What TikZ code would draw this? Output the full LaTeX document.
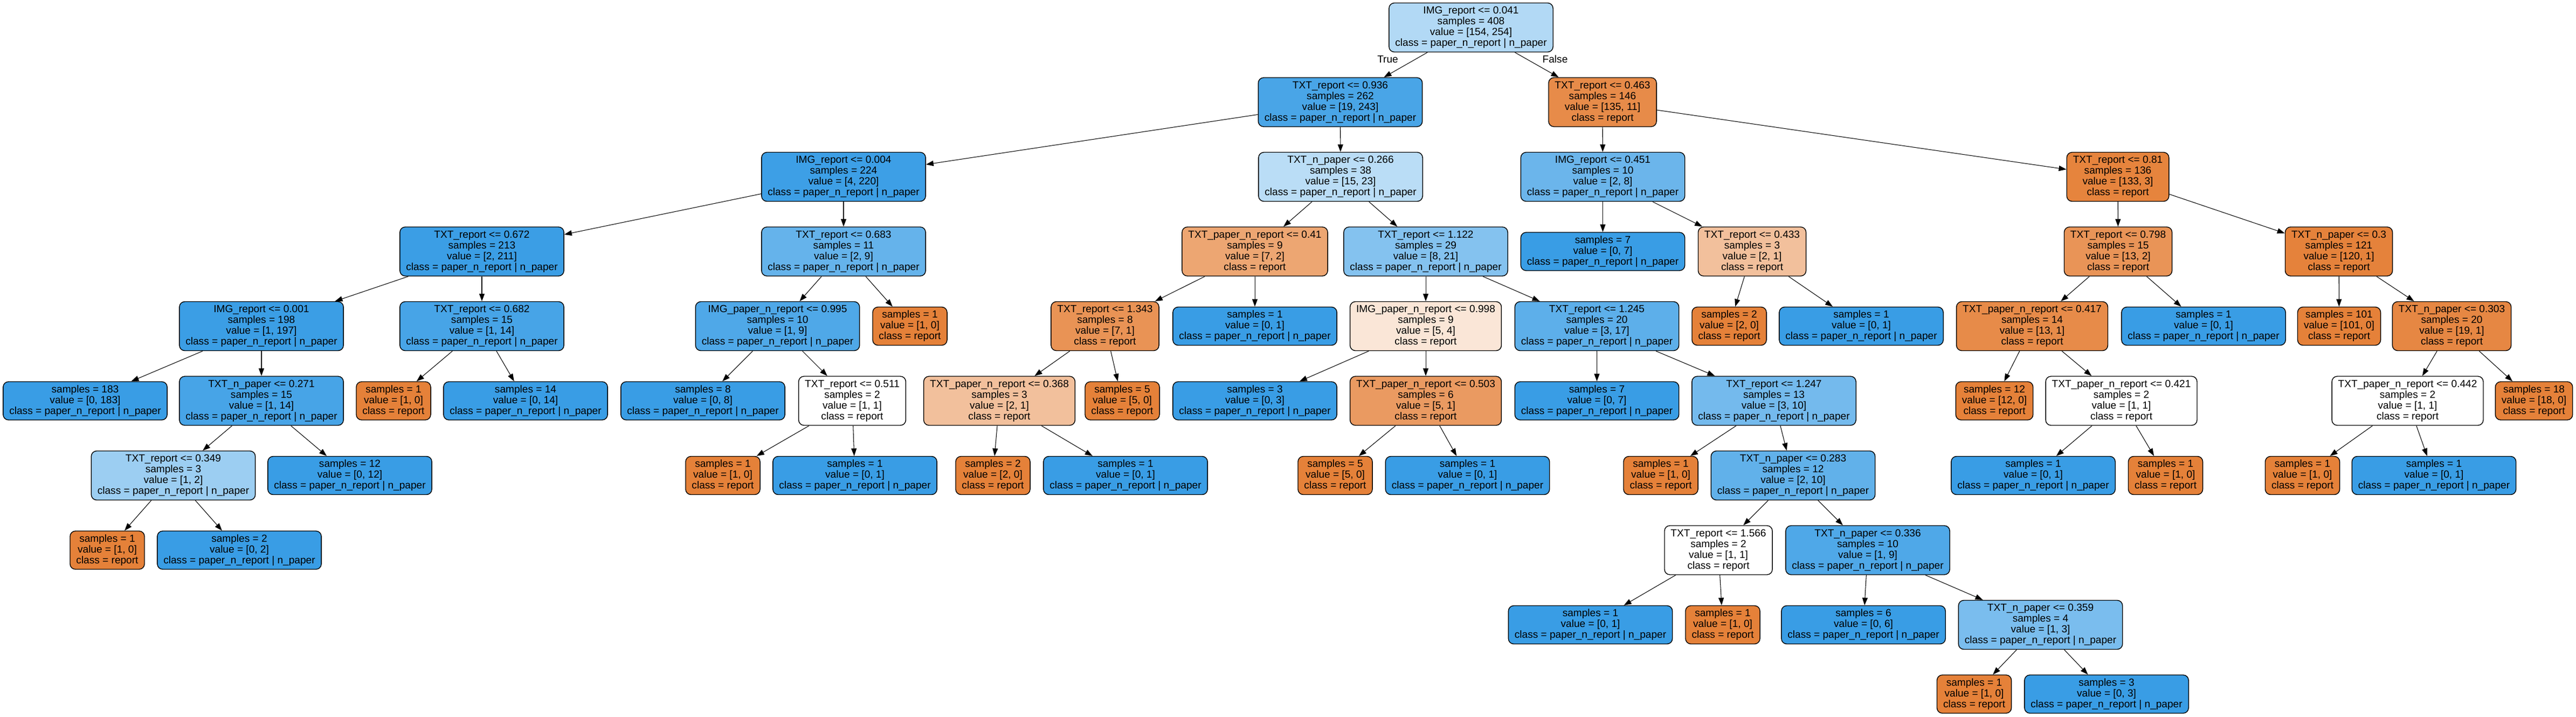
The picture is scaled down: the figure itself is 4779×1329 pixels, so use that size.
\documentclass[tikz,border=0pt]{standalone}
\usepackage{fontspec}
\setmainfont{Liberation Sans}
\usetikzlibrary{arrows.meta}
\definecolor{rep}{RGB}{229,129,57}
\definecolor{pnr}{RGB}{57,157,229}
\newcommand{\clsP}{class = paper\_n\_report | n\_paper}
\newcommand{\clsR}{class = report}
\tikzset{
    split/.style = {
        draw,
        shape=rectangle,
        rounded corners=1mm,
        align=center,
        minimum height=9.1mm,
        inner xsep=1.15mm,
        inner ysep=0pt,
        line width=0.4pt
    },
    leaf/.style = {
        split,
        minimum height=7.1mm
    },
    lbl/.style = {
        shape=rectangle,
        inner sep=0pt
    },
    >={Triangle[length=1.4mm,width=1mm]},
}

\begin{document}
\begin{tikzpicture}[x=0.1mm, y=-0.1mm, line width=0.3pt,
    font=\fontsize{5.43pt}{5.69pt}\selectfont]
    \useasboundingbox (0,0) rectangle (4779,1329);
    \fill[white] (0,0) rectangle (4779,1329);

    % level 0 and 1
    \node[split, fill=pnr!39!white] (root) at (2729,51) {IMG\_report <= 0.041\\samples = 408\\value = [154, 254]\\\clsP};
    \node[split, fill=pnr!92!white] (t936) at (2486.5,189.5) {TXT\_report <= 0.936\\samples = 262\\value = [19, 243]\\\clsP};
    \node[split, fill=rep!92!white] (t463) at (2973,189.5) {TXT\_report <= 0.463\\samples = 146\\value = [135, 11]\\\clsR};
    \node[lbl] (lblT) at (2574.5,110) {True};
    \node[lbl] (lblF) at (2885,110) {False};

    % level 2
    \node[split, fill=pnr!98!white] (i004) at (1565,328) {IMG\_report <= 0.004\\samples = 224\\value = [4, 220]\\\clsP};
    \node[split, fill=pnr!35!white] (n266) at (2487,328) {TXT\_n\_paper <= 0.266\\samples = 38\\value = [15, 23]\\\clsP};
    \node[split, fill=pnr!75!white] (i451) at (2973.5,328) {IMG\_report <= 0.451\\samples = 10\\value = [2, 8]\\\clsP};
    \node[split, fill=rep!98!white] (t810) at (3929,328) {TXT\_report <= 0.81\\samples = 136\\value = [133, 3]\\\clsR};

    % level 3
    \node[split, fill=pnr!99!white] (t672) at (894,466.5) {TXT\_report <= 0.672\\samples = 213\\value = [2, 211]\\\clsP};
    \node[split, fill=pnr!78!white] (t683) at (1565,466.5) {TXT\_report <= 0.683\\samples = 11\\value = [2, 9]\\\clsP};
    \node[split, fill=rep!71!white] (p410) at (2328,466.5) {TXT\_paper\_n\_report <= 0.41\\samples = 9\\value = [7, 2]\\\clsR};
    \node[split, fill=pnr!62!white] (t1122) at (2645,466.5) {TXT\_report <= 1.122\\samples = 29\\value = [8, 21]\\\clsP};
    \node[leaf, fill=pnr] (lf7a) at (2973.5,466.5) {samples = 7\\value = [0, 7]\\\clsP};
    \node[split, fill=rep!50!white] (t433) at (3250.5,466.5) {TXT\_report <= 0.433\\samples = 3\\value = [2, 1]\\\clsR};
    \node[split, fill=rep!85!white] (t798) at (3929.5,466.5) {TXT\_report <= 0.798\\samples = 15\\value = [13, 2]\\\clsR};
    \node[split, fill=rep!99!white] (n300) at (4339,466.5) {TXT\_n\_paper <= 0.3\\samples = 121\\value = [120, 1]\\\clsR};

    % level 4
    \node[split, fill=pnr!99!white] (i001) at (485,605) {IMG\_report <= 0.001\\samples = 198\\value = [1, 197]\\\clsP};
    \node[split, fill=pnr!93!white] (t682) at (894,605) {TXT\_report <= 0.682\\samples = 15\\value = [1, 14]\\\clsP};
    \node[split, fill=pnr!89!white] (ip995) at (1442.5,605) {IMG\_paper\_n\_report <= 0.995\\samples = 10\\value = [1, 9]\\\clsP};
    \node[leaf, fill=rep] (lf1a) at (1688,605) {samples = 1\\value = [1, 0]\\\clsR};
    \node[split, fill=rep!86!white] (t1343) at (2050,605) {TXT\_report <= 1.343\\samples = 8\\value = [7, 1]\\\clsR};
    \node[leaf, fill=pnr] (lf1b) at (2328,605) {samples = 1\\value = [0, 1]\\\clsP};
    \node[split, fill=rep!20!white] (ip998) at (2645,605) {IMG\_paper\_n\_report <= 0.998\\samples = 9\\value = [5, 4]\\\clsR};
    \node[split, fill=pnr!82!white] (t1245) at (2962.5,605) {TXT\_report <= 1.245\\samples = 20\\value = [3, 17]\\\clsP};
    \node[leaf, fill=rep] (lf2a) at (3208,605) {samples = 2\\value = [2, 0]\\\clsR};
    \node[leaf, fill=pnr] (lf1c) at (3453,605) {samples = 1\\value = [0, 1]\\\clsP};
    \node[split, fill=rep!92!white] (p417) at (3770,605) {TXT\_paper\_n\_report <= 0.417\\samples = 14\\value = [13, 1]\\\clsR};
    \node[leaf, fill=pnr] (lf1d) at (4088,605) {samples = 1\\value = [0, 1]\\\clsP};
    \node[leaf, fill=rep] (lf101) at (4339.5,605) {samples = 101\\value = [101, 0]\\\clsR};
    \node[split, fill=rep!95!white] (n303) at (4548.5,605) {TXT\_n\_paper <= 0.303\\samples = 20\\value = [19, 1]\\\clsR};

    % level 5
    \node[leaf, fill=pnr] (lf183) at (158,743.5) {samples = 183\\value = [0, 183]\\\clsP};
    \node[split, fill=pnr!93!white] (n271) at (485,743.5) {TXT\_n\_paper <= 0.271\\samples = 15\\value = [1, 14]\\\clsP};
    \node[leaf, fill=rep] (lf1e) at (730,743.5) {samples = 1\\value = [1, 0]\\\clsR};
    \node[leaf, fill=pnr] (lf14) at (975,743.5) {samples = 14\\value = [0, 14]\\\clsP};
    \node[leaf, fill=pnr] (lf8) at (1304,743.5) {samples = 8\\value = [0, 8]\\\clsP};
    \node[split, fill=white] (t511) at (1581,743.5) {TXT\_report <= 0.511\\samples = 2\\value = [1, 1]\\\clsR};
    \node[split, fill=rep!50!white] (p368) at (1854,743.5) {TXT\_paper\_n\_report <= 0.368\\samples = 3\\value = [2, 1]\\\clsR};
    \node[leaf, fill=rep] (lf5a) at (2082,743.5) {samples = 5\\value = [5, 0]\\\clsR};
    \node[leaf, fill=pnr] (lf3a) at (2328,743.5) {samples = 3\\value = [0, 3]\\\clsP};
    \node[split, fill=rep!80!white] (p503) at (2645,743.5) {TXT\_paper\_n\_report <= 0.503\\samples = 6\\value = [5, 1]\\\clsR};
    \node[leaf, fill=pnr] (lf7b) at (2962.5,743.5) {samples = 7\\value = [0, 7]\\\clsP};
    \node[split, fill=pnr!70!white] (t1247) at (3291,743.5) {TXT\_report <= 1.247\\samples = 13\\value = [3, 10]\\\clsP};
    \node[leaf, fill=rep] (lf12a) at (3700,743.5) {samples = 12\\value = [12, 0]\\\clsR};
    \node[split, fill=white] (p421) at (3935.5,743.5) {TXT\_paper\_n\_report <= 0.421\\samples = 2\\value = [1, 1]\\\clsR};
    \node[split, fill=white] (p442) at (4466.5,743.5) {TXT\_paper\_n\_report <= 0.442\\samples = 2\\value = [1, 1]\\\clsR};
    \node[leaf, fill=rep] (lf18) at (4701,743.5) {samples = 18\\value = [18, 0]\\\clsR};

    % level 6
    \node[split, fill=pnr!50!white] (t349) at (321.5,882) {TXT\_report <= 0.349\\samples = 3\\value = [1, 2]\\\clsP};
    \node[leaf, fill=pnr] (lf12b) at (649,882) {samples = 12\\value = [0, 12]\\\clsP};
    \node[leaf, fill=rep] (lf1f) at (1341,882) {samples = 1\\value = [1, 0]\\\clsR};
    \node[leaf, fill=pnr] (lf1g) at (1586,882) {samples = 1\\value = [0, 1]\\\clsP};
    \node[leaf, fill=rep] (lf2b) at (1842,882) {samples = 2\\value = [2, 0]\\\clsR};
    \node[leaf, fill=pnr] (lf1h) at (2088,882) {samples = 1\\value = [0, 1]\\\clsP};
    \node[leaf, fill=rep] (lf5b) at (2477,882) {samples = 5\\value = [5, 0]\\\clsR};
    \node[leaf, fill=pnr] (lf1i) at (2722.5,882) {samples = 1\\value = [0, 1]\\\clsP};
    \node[leaf, fill=rep] (lf1j) at (3081,882) {samples = 1\\value = [1, 0]\\\clsR};
    \node[split, fill=pnr!80!white] (n283) at (3326.5,882) {TXT\_n\_paper <= 0.283\\samples = 12\\value = [2, 10]\\\clsP};
    \node[leaf, fill=pnr] (lf1k) at (3772,882) {samples = 1\\value = [0, 1]\\\clsP};
    \node[leaf, fill=rep] (lf1l) at (4017.5,882) {samples = 1\\value = [1, 0]\\\clsR};
    \node[leaf, fill=rep] (lf1m) at (4271.5,882) {samples = 1\\value = [1, 0]\\\clsR};
    \node[leaf, fill=pnr] (lf1n) at (4515.5,882) {samples = 1\\value = [0, 1]\\\clsP};

    % level 7
    \node[leaf, fill=rep] (lf1o) at (199,1020.5) {samples = 1\\value = [1, 0]\\\clsR};
    \node[leaf, fill=pnr] (lf2c) at (444,1020.5) {samples = 2\\value = [0, 2]\\\clsP};
    \node[split, fill=white] (t1566) at (3188,1020.5) {TXT\_report <= 1.566\\samples = 2\\value = [1, 1]\\\clsR};
    \node[split, fill=pnr!89!white] (n336) at (3465,1020.5) {TXT\_n\_paper <= 0.336\\samples = 10\\value = [1, 9]\\\clsP};

    % level 8 and 9
    \node[leaf, fill=pnr] (lf1p) at (2950.5,1159) {samples = 1\\value = [0, 1]\\\clsP};
    \node[leaf, fill=rep] (lf1q) at (3196,1159) {samples = 1\\value = [1, 0]\\\clsR};
    \node[leaf, fill=pnr] (lf6) at (3457,1159) {samples = 6\\value = [0, 6]\\\clsP};
    \node[split, fill=pnr!67!white] (n359) at (3785.5,1159) {TXT\_n\_paper <= 0.359\\samples = 4\\value = [1, 3]\\\clsP};
    \node[leaf, fill=rep] (lf1r) at (3662.5,1287.5) {samples = 1\\value = [1, 0]\\\clsR};
    \node[leaf, fill=pnr] (lf3b) at (3908,1287.5) {samples = 3\\value = [0, 3]\\\clsP};

    % edges
    \path[draw, ->] (root) -- (t936);
    \path[draw, ->] (root) -- (t463);
    \path[draw, ->] (t936) -- (i004);
    \path[draw, ->] (t936) -- (n266);
    \path[draw, ->] (t463) -- (i451);
    \path[draw, ->] (t463) -- (t810);
    \path[draw, ->] (i004) -- (t672);
    \path[draw, ->] (i004) -- (t683);
    \path[draw, ->] (n266) -- (p410);
    \path[draw, ->] (n266) -- (t1122);
    \path[draw, ->] (i451) -- (lf7a);
    \path[draw, ->] (i451) -- (t433);
    \path[draw, ->] (t810) -- (t798);
    \path[draw, ->] (t810) -- (n300);
    \path[draw, ->] (t672) -- (i001);
    \path[draw, ->] (t672) -- (t682);
    \path[draw, ->] (t683) -- (ip995);
    \path[draw, ->] (t683) -- (lf1a);
    \path[draw, ->] (p410) -- (t1343);
    \path[draw, ->] (p410) -- (lf1b);
    \path[draw, ->] (t1122) -- (ip998);
    \path[draw, ->] (t1122) -- (t1245);
    \path[draw, ->] (t433) -- (lf2a);
    \path[draw, ->] (t433) -- (lf1c);
    \path[draw, ->] (t798) -- (p417);
    \path[draw, ->] (t798) -- (lf1d);
    \path[draw, ->] (n300) -- (lf101);
    \path[draw, ->] (n300) -- (n303);
    \path[draw, ->] (i001) -- (lf183);
    \path[draw, ->] (i001) -- (n271);
    \path[draw, ->] (t682) -- (lf1e);
    \path[draw, ->] (t682) -- (lf14);
    \path[draw, ->] (ip995) -- (lf8);
    \path[draw, ->] (ip995) -- (t511);
    \path[draw, ->] (t1343) -- (p368);
    \path[draw, ->] (t1343) -- (lf5a);
    \path[draw, ->] (ip998) -- (lf3a);
    \path[draw, ->] (ip998) -- (p503);
    \path[draw, ->] (t1245) -- (lf7b);
    \path[draw, ->] (t1245) -- (t1247);
    \path[draw, ->] (p417) -- (lf12a);
    \path[draw, ->] (p417) -- (p421);
    \path[draw, ->] (n303) -- (p442);
    \path[draw, ->] (n303) -- (lf18);
    \path[draw, ->] (n271) -- (t349);
    \path[draw, ->] (n271) -- (lf12b);
    \path[draw, ->] (t511) -- (lf1f);
    \path[draw, ->] (t511) -- (lf1g);
    \path[draw, ->] (p368) -- (lf2b);
    \path[draw, ->] (p368) -- (lf1h);
    \path[draw, ->] (p503) -- (lf5b);
    \path[draw, ->] (p503) -- (lf1i);
    \path[draw, ->] (t1247) -- (lf1j);
    \path[draw, ->] (t1247) -- (n283);
    \path[draw, ->] (p421) -- (lf1k);
    \path[draw, ->] (p421) -- (lf1l);
    \path[draw, ->] (p442) -- (lf1m);
    \path[draw, ->] (p442) -- (lf1n);
    \path[draw, ->] (t349) -- (lf1o);
    \path[draw, ->] (t349) -- (lf2c);
    \path[draw, ->] (n283) -- (t1566);
    \path[draw, ->] (n283) -- (n336);
    \path[draw, ->] (t1566) -- (lf1p);
    \path[draw, ->] (t1566) -- (lf1q);
    \path[draw, ->] (n336) -- (lf6);
    \path[draw, ->] (n336) -- (n359);
    \path[draw, ->] (n359) -- (lf1r);
    \path[draw, ->] (n359) -- (lf3b);
\end{tikzpicture}
\end{document}
